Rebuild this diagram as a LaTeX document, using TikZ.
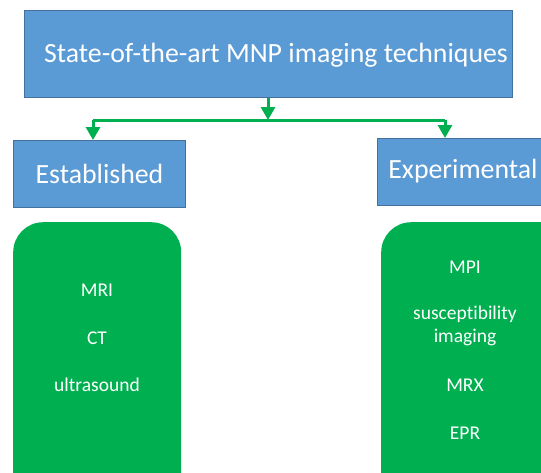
\documentclass[tikz,border=0pt]{standalone}
\usepackage{fontspec}
\setmainfont[Ligatures=NoCommon]{Carlito}
\usetikzlibrary{arrows.meta}
\definecolor{boxblue}{HTML}{5B9BD5}
\definecolor{boxedge}{HTML}{41719C}
\definecolor{okgreen}{HTML}{00B050}
\begin{document}
\begin{tikzpicture}[x=1pt,y=-1pt,
  bluebox/.style={draw=boxedge,fill=boxblue,line width=1pt,text=white,inner sep=0pt,anchor=north west},
  greenbox/.style={fill=okgreen,rounded corners=30pt,inner sep=0pt,anchor=north west},
  head/.style={text=white,font=\fontsize{27.8}{32}\selectfont},
  item/.style={text=white,font=\fontsize{19.5}{23}\selectfont,align=center},
  conn/.style={draw=okgreen,line width=3pt},
  arr/.style={conn,-{Triangle[width=14pt,length=13pt]}}]
\useasboundingbox (0,0) rectangle (541,472);
\begin{scope}
\clip (0,0) rectangle (541,472);
\node[bluebox,minimum width=488pt,minimum height=87pt] (top) at (24,10) {};
\node[head] (toptxt) at (276,55) {State-of-the-art MNP imaging techniques};
\node[bluebox,minimum width=172pt,minimum height=67pt] (est) at (13,140) {};
\node[head] (esttxt) at (est.center) {Established};
\node[bluebox,minimum width=190pt,minimum height=67pt] (exp) at (377,138) {};
\node[head] (exptxt) at (463,171) {Experimental};
\node[greenbox,minimum width=168pt,minimum height=300pt] (gl) at (13,222) {};
\node[greenbox,minimum width=190pt,minimum height=300pt] (gr) at (381,222) {};
\node[item] (mri) at (97,290) {MRI};
\node[item] (ct) at (97,338) {CT};
\node[item] (us) at (97,385) {ultrasound};
\node[item] (mpi) at (465,267) {MPI};
\node[item] (sus) at (465,326) {susceptibility\\imaging};
\node[item] (mrx) at (465,385) {MRX};
\node[item] (epr) at (465,433) {EPR};
\coordinate (j) at (268,120);
\coordinate (jl) at (93,120);
\coordinate (jr) at (445,120);
\draw[arr] (top.south -| j) -- (j);
\draw[conn] (jl) -- (jr);
\draw[arr] (jl) -- (jl |- est.north);
\draw[arr] (jr) -- (jr |- exp.north);
\end{scope}
\end{tikzpicture}
\end{document}
